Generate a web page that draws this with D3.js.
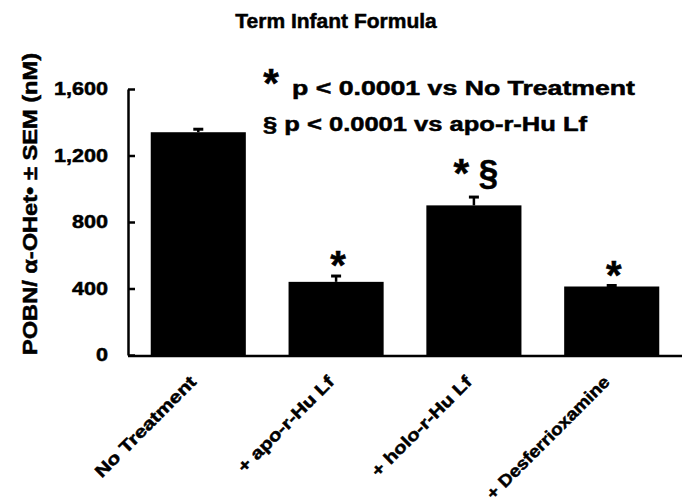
<!DOCTYPE html>
<html>
<head>
<meta charset="utf-8">
<script src="https://cdn.jsdelivr.net/npm/d3@7"></script>
<style>
  html, body { margin: 0; padding: 0; background: #fff; }
  svg { display: block; }
  text { font-family: "Liberation Sans", Arial, sans-serif; font-weight: bold; fill: #000; stroke: #000; stroke-width: 0.5px; }
</style>
</head>
<body>
<svg id="chart" width="689" height="504"></svg>
<script>
// ---- data ----
const categories = ["No Treatment", "+ apo-r-Hu Lf", "+ holo-r-Hu Lf", "+ Desferrioxamine"];
const means = [1340, 440, 900, 412];
const sems = [18, 35, 50, 6];
const starMarks = ["", "*", "*", "*"];
const sectionMarks = ["", "", "§", ""];
const yTicks = [0, 400, 800, 1200, 1600];
const title = "Term Infant Formula";
const yLabel = "POBN/ \u03B1-OHet\u2022 \u00B1 SEM (nM)";
const legendRows = ["p < 0.0001 vs No Treatment", "p < 0.0001 vs apo-r-Hu Lf"];
const legendSymbols = ["*", "§"];

// ---- layout ----
const svg = d3.select("#chart");
const x0 = 128, x1 = 682, yBase = 355, yTop = 89;
const labelLengths = [135, 128, 134, 166];

const x = d3.scaleBand().domain(categories).range([x0, x1]).paddingInner(0.31).paddingOuter(0.165);
const y = d3.scaleLinear().domain([0, 1600]).range([yBase, yTop]);

function stretch(sel, factor) {
  sel.each(function () {
    const L = this.getComputedTextLength();
    this.setAttribute("textLength", L * factor);
    this.setAttribute("lengthAdjust", "spacingAndGlyphs");
  });
}

// title
svg.append("text").attr("x", 336).attr("y", 28).attr("text-anchor", "middle")
  .style("font-size", "21px").text(title);

// bars
const data = categories.map((c, i) => ({ c, m: means[i], s: sems[i], star: starMarks[i], sec: sectionMarks[i] }));
svg.append("g").selectAll("rect").data(data).join("rect")
  .attr("x", d => x(d.c)).attr("width", x.bandwidth())
  .attr("y", d => y(d.m)).attr("height", d => y(0) - y(d.m))
  .attr("fill", "#000");

// error bars (upper only)
const eb = svg.append("g").attr("stroke", "#000");
eb.selectAll("line.stem").data(data).join("line").attr("class", "stem")
  .attr("x1", d => x(d.c) + x.bandwidth() / 2).attr("x2", d => x(d.c) + x.bandwidth() / 2)
  .attr("y1", d => y(d.m)).attr("y2", d => y(d.m + d.s)).attr("stroke-width", 2.5);
eb.selectAll("line.cap").data(data).join("line").attr("class", "cap")
  .attr("x1", d => x(d.c) + x.bandwidth() / 2 - 5).attr("x2", d => x(d.c) + x.bandwidth() / 2 + 5)
  .attr("y1", d => y(d.m + d.s)).attr("y2", d => y(d.m + d.s)).attr("stroke-width", 3);

// significance marks
const marks = svg.append("g").selectAll("text").data(data.filter(d => d.star)).join("text")
  .attr("x", d => x(d.c) + x.bandwidth() / 2 + 2)
  .attr("y", d => y(d.m + d.s) + (d.sec ? -10 : 3))
  .attr("text-anchor", "middle");
marks.append("tspan").style("font-size", "40px").text(d => d.star);
marks.filter(d => d.sec).append("tspan").style("font-size", "35px").attr("dy", -3).text(d => " " + d.sec);

// y axis
const yAxis = d3.axisLeft(y).tickValues(yTicks).tickFormat(d3.format(",")).tickSizeInner(-7).tickSizeOuter(0).tickPadding(20);
const gy = svg.append("g").attr("transform", `translate(${x0},0)`).call(yAxis);
gy.select(".domain").attr("stroke", "#000").attr("stroke-width", 2.5);
gy.selectAll(".tick line").attr("stroke", "#000").attr("stroke-width", 2.5);
gy.selectAll(".tick text").style("font-size", "18px").style("font-family", "Liberation Sans, Arial, sans-serif")
  .style("font-weight", "bold").attr("fill", "#000").attr("stroke", "#000").attr("stroke-width", 0.5);
stretch(gy.selectAll(".tick text"), 1.2);

// x axis baseline
svg.append("line").attr("x1", x0).attr("x2", x1).attr("y1", y(0) + 1).attr("y2", y(0) + 1)
  .attr("stroke", "#000").attr("stroke-width", 2.5);

// x labels
svg.append("g").selectAll("text").data(categories).join("text")
  .attr("transform", d => `translate(${x(d) + x.bandwidth() / 2 - 1},${yBase + 28}) rotate(-45)`)
  .attr("text-anchor", "end").style("font-size", "17px")
  .attr("textLength", (d, i) => labelLengths[i]).attr("lengthAdjust", "spacingAndGlyphs")
  .text(d => d);

// y label
svg.append("text").attr("transform", `translate(37,204) rotate(-90)`).attr("text-anchor", "middle")
  .style("font-size", "20px").attr("textLength", 302).attr("lengthAdjust", "spacingAndGlyphs").text(yLabel);

// legend
svg.append("text").attr("x", 271).attr("y", 97).attr("text-anchor", "middle").style("font-size", "40px").text(legendSymbols[0]);
svg.append("text").attr("x", 292).attr("y", 95).style("font-size", "20px")
  .attr("textLength", 343).attr("lengthAdjust", "spacingAndGlyphs").text(legendRows[0]);
svg.append("text").attr("x", 263).attr("y", 131).style("font-size", "20px")
  .attr("textLength", 324).attr("lengthAdjust", "spacingAndGlyphs").text(legendSymbols[1] + " " + legendRows[1]);
</script>
</body>
</html>
